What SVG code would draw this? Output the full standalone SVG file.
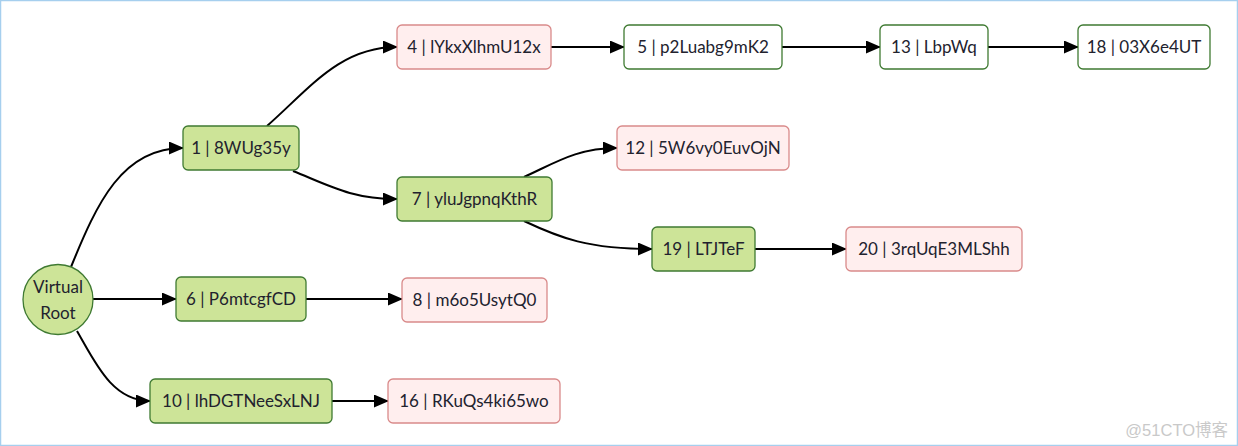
<svg xmlns="http://www.w3.org/2000/svg" width="1238" height="446" viewBox="0 0 1238 446">
<style>
.g rect{fill:#cde498;stroke:#3f7a32;stroke-width:1.3}
.p rect{fill:#ffeeee;stroke:#d98a8a;stroke-width:1.3}
.w rect{fill:#ffffff;stroke:#3f7a32;stroke-width:1.3}
.n text{font-family:Lato,"Open Sans",sans-serif;font-size:17px;fill:#22222e;text-anchor:middle}
.e path{fill:none;stroke:#000;stroke-width:2}
</style>
<defs>
<marker id="ah" markerUnits="userSpaceOnUse" markerWidth="15" markerHeight="13" viewBox="0 0 15 13" refX="14" refY="6.5" orient="auto">
<path d="M0,0 L15,6.5 L0,13 z" fill="#000"/>
</marker>
</defs>
<rect x="0.5" y="0.5" width="1237" height="445" fill="#fff" stroke="#a6cfee" stroke-width="1.5"/>
<g id="connectors" class="e">
<path d="M71,267 C97,203 122,148 183,148" marker-end="url(#ah)"/>
<path d="M93,299 L176,299" marker-end="url(#ah)"/>
<path d="M77,331 C95,362 112,401 150,401" marker-end="url(#ah)"/>
<path d="M267,126 C310,88 340,47 397,47" marker-end="url(#ah)"/>
<path d="M293,171 C330,186 352,199 397,199" marker-end="url(#ah)"/>
<path d="M551,47 L624,47" marker-end="url(#ah)"/>
<path d="M782,47 L880,47" marker-end="url(#ah)"/>
<path d="M988,47 L1078,47" marker-end="url(#ah)"/>
<path d="M524,177 C555,163 577,148 617,148" marker-end="url(#ah)"/>
<path d="M524,221 C560,238 588,249 652,249" marker-end="url(#ah)"/>
<path d="M755,249 L846,249" marker-end="url(#ah)"/>
<path d="M306,299 L402,299" marker-end="url(#ah)"/>
<path d="M332,401 L388,401" marker-end="url(#ah)"/>
</g>
<g id="root" class="n">
<circle cx="58" cy="299.5" r="35" fill="#cde498" stroke="#3f7a32" stroke-width="1.3"/>
<text x="58" y="293">Virtual</text>
<text x="58" y="319">Root</text>
</g>
<g id="n1" class="n g"><rect x="183" y="126" width="116" height="44" rx="5"/><text x="241" y="154">1 | 8WUg35y</text></g>
<g id="n4" class="n p"><rect x="397" y="25" width="154" height="44" rx="5"/><text x="474" y="53">4 | lYkxXlhmU12x</text></g>
<g id="n5" class="n w"><rect x="624" y="25" width="158" height="44" rx="5"/><text x="703" y="53">5 | p2Luabg9mK2</text></g>
<g id="n13" class="n w"><rect x="880" y="25" width="108" height="44" rx="5"/><text x="934" y="53">13 | LbpWq</text></g>
<g id="n18" class="n w"><rect x="1078" y="25" width="132" height="44" rx="5"/><text x="1144" y="53">18 | 03X6e4UT</text></g>
<g id="n7" class="n g"><rect x="397" y="177" width="155" height="44" rx="5"/><text x="474.5" y="205">7 | yluJgpnqKthR</text></g>
<g id="n12" class="n p"><rect x="617" y="126" width="172" height="44" rx="5"/><text x="703" y="154">12 | 5W6vy0EuvOjN</text></g>
<g id="n19" class="n g"><rect x="652" y="227" width="103" height="44" rx="5"/><text x="703.5" y="255">19 | LTJTeF</text></g>
<g id="n20" class="n p"><rect x="846" y="227" width="176" height="44" rx="5"/><text x="934" y="255">20 | 3rqUqE3MLShh</text></g>
<g id="n6" class="n g"><rect x="176" y="277" width="130" height="44" rx="5"/><text x="241" y="305">6 | P6mtcgfCD</text></g>
<g id="n8" class="n p"><rect x="402" y="278" width="145" height="44" rx="5"/><text x="474.5" y="306">8 | m6o5UsytQ0</text></g>
<g id="n10" class="n g"><rect x="150" y="379" width="182" height="44" rx="5"/><text x="241" y="407">10 | lhDGTNeeSxLNJ</text></g>
<g id="n16" class="n p"><rect x="388" y="379" width="172" height="44" rx="5"/><text x="474" y="407">16 | RKuQs4ki65wo</text></g>
<text x="1228" y="436" text-anchor="end" font-family="'Liberation Sans','Noto Sans CJK SC',sans-serif" font-size="16.5" fill="#c9c9c9">@51CTO博客</text>
</svg>
